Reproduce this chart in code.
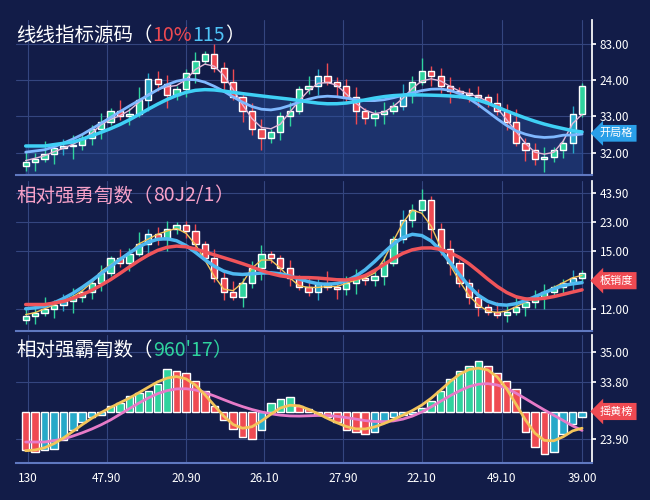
import numpy as np, pandas as pd, seaborn as sns, matplotlib
matplotlib.use("Agg")
import matplotlib.pyplot as plt

sns.set_theme(style="dark")
plt.rcParams['font.family'] = ['Noto Sans CJK SC', 'DejaVu Sans']

# ---------------- data ----------------
close1 = [17,20,25,30,32,33,40,48,55,65,60,62,75,95,90,80,85,100,112,118,
          105,92,78,65,48,40,45,60,65,85,88,98,92,88,78,65,58,62,65,70,
          80,92,102,98,88,84,82,80,78,72,65,55,35,28,20,22,28,35,62,88]
close2 = [20,24,28,32,36,40,45,55,65,80,75,85,95,105,100,110,115,108,95,80,
          60,45,40,55,70,85,80,70,60,50,45,55,50,48,55,60,58,62,75,100,
          120,130,140,110,90,75,55,40,30,25,22,25,30,35,40,45,50,55,60,65]
hist3 = [-38,-40,-38,-37,-28,-18,-10,-5,-3,5,8,15,18,20,27,42,40,38,30,20,
         5,-8,-17,-25,-27,-18,8,12,14,5,2,-3,-5,-10,-18,-20,-22,-20,-10,-5,
         -3,-2,3,10,20,32,40,45,50,45,38,30,22,-20,-35,-42,-40,-22,-12,-5]
xtick_pos = [0.2, 8.6, 17, 25.3, 33.7, 42, 50.5, 59]
xtick_labels = ["130", "47.90", "20.90", "26.10", "27.90", "22.10", "49.10", "39.00"]
y1_ticks = [128, 94, 60, 26]; y1_labels = ["83.00", "24.00", "33.00", "32.00"]
y2_ticks = [148, 118, 88, 28]; y2_labels = ["43.90", "23.00", "15.00", "12.00"]
y3_ticks = [58, 29, -27]; y3_labels = ["35.00", "33.80", "23.90"]

BG = "#121c48"; GRID = "#34457f"
GREEN = "#2fd39e"; RED = "#ef4a52"; TEAL = "#26a9c9"

fig = plt.figure(figsize=(6.5, 5), dpi=100, facecolor=BG)
axes = [fig.add_axes([0.025, 0.65, 0.885, 0.31]),
        fig.add_axes([0.025, 0.338, 0.885, 0.30]),
        fig.add_axes([0.025, 0.075, 0.885, 0.255])]
for ax in axes:
    ax.set_facecolor(BG)
    ax.set_xlim(-1, 60)
    for s in ["top", "left"]:
        ax.spines[s].set_visible(False)
    ax.spines["right"].set_color("white"); ax.spines["bottom"].set_color("#5f78c0")
    ax.spines["bottom"].set_linewidth(1.5)
    ax.yaxis.tick_right()
    ax.tick_params(axis="y", colors="white", labelsize=8.5, length=3, pad=3)
    ax.set_xticks(xtick_pos)
    ax.grid(True, color=GRID, lw=0.8)
    ax.set_axisbelow(True)

def candles(ax, close, seed_vals):
    opens = [close[0] - 4] + close[:-1]
    for i, (o, c) in enumerate(zip(opens, close)):
        up = c >= o
        col = GREEN if up else RED
        if i % 9 == 4: col = TEAL if up else col
        lo, hi = min(o, c), max(o, c)
        if hi - lo < 1.5: hi = lo + 1.5
        ax.vlines(i, lo - seed_vals[i % len(seed_vals)], hi + seed_vals[(i + 3) % len(seed_vals)], color=col, lw=1, zorder=3)
        ax.bar(i, hi - lo, bottom=lo, width=0.66, color=col, zorder=4)

wick = [4, 8, 3, 10, 6, 12, 5, 7, 9, 3]

# panel 1
ax = axes[0]
s1 = pd.Series(close1, dtype=float)
df1 = pd.DataFrame({"x": np.arange(60),
                    "ma_a": s1.rolling(9, center=True, min_periods=1).mean().rolling(5, center=True, min_periods=1).mean(),
                    "ma_b": s1.rolling(14, center=True, min_periods=1).mean().rolling(7, center=True, min_periods=1).mean().shift(2).bfill(),
                    "ma_c": s1.rolling(4, center=True, min_periods=1).mean()})
ax.fill_between(df1.x, 0, df1.ma_b, color="#2a4f9a", alpha=0.45, zorder=1)
sns.lineplot(data=df1, x="x", y="ma_c", ax=ax, color="#e7b9d8", lw=1, zorder=5)
sns.lineplot(data=df1, x="x", y="ma_a", ax=ax, color="#7fb8ff", lw=2, zorder=5)
sns.lineplot(data=df1, x="x", y="ma_b", ax=ax, color="#3fd0f5", lw=2.5, zorder=5)
candles(ax, close1, wick)
ax.set_ylim(5, 150)
ax.set_yticks(y1_ticks, y1_labels)

# panel 2
ax = axes[1]
s2 = pd.Series(close2, dtype=float)
df2 = pd.DataFrame({"x": np.arange(60),
                    "ma_a": s2.rolling(7, center=True, min_periods=1).mean().rolling(5, center=True, min_periods=1).mean(),
                    "ma_b": s2.rolling(11, center=True, min_periods=1).mean().rolling(5, center=True, min_periods=1).mean().shift(2).bfill(),
                    "ma_c": s2.rolling(3, center=True, min_periods=1).mean()})
sns.lineplot(data=df2, x="x", y="ma_c", ax=ax, color="#f3c45a", lw=1, zorder=5)
sns.lineplot(data=df2, x="x", y="ma_a", ax=ax, color="#4fb8f0", lw=2.5, zorder=5)
sns.lineplot(data=df2, x="x", y="ma_b", ax=ax, color="#f0545a", lw=2.5, zorder=5)
candles(ax, close2, wick)
ax.set_ylim(5, 160)
ax.set_yticks(y2_ticks, y2_labels)

# panel 3
ax = axes[2]
h = pd.Series(hist3, dtype=float)
cols = []
for i, v in enumerate(hist3):
    prev = hist3[i - 1] if i else v
    if v >= 0:
        cols.append(GREEN if v >= prev else RED)
    else:
        cols.append(RED if v <= prev else TEAL)
ax.bar(np.arange(60), hist3, width=0.8, color=cols, zorder=3)
df3 = pd.DataFrame({"x": np.arange(60),
                    "fast": h.rolling(5, center=True, min_periods=1).mean().rolling(3, center=True, min_periods=1).mean(),
                    "slow": h.rolling(11, center=True, min_periods=1).mean().rolling(5, center=True, min_periods=1).mean().shift(2).bfill()})
sns.lineplot(data=df3, x="x", y="slow", ax=ax, color="#e77bc8", lw=2, zorder=5)
sns.lineplot(data=df3, x="x", y="fast", ax=ax, color="#f3c45a", lw=2, zorder=5)
ax.set_ylim(-50, 75)
ax.set_yticks(y3_ticks, y3_labels)
ax.set_xticklabels(xtick_labels, color="white", fontsize=8.5)
ax.tick_params(axis="x", colors="white", length=3)
for a in axes[:2]:
    a.tick_params(axis="x", labelbottom=False, length=0)
for a in axes:
    a.set_xlabel(""); a.set_ylabel("")

# titles (multi-colour)
fig.canvas.draw()
r = fig.canvas.get_renderer()
def title(ax, pieces, y=0.9):
    x = 0.0
    for txt, col in pieces:
        t = ax.text(x, y, txt, transform=ax.transAxes, color=col, fontsize=14,
                    fontweight="medium", va="center", zorder=10)
        bb = t.get_window_extent(r).transformed(ax.transAxes.inverted())
        x = bb.x1
title(axes[0], [("线线指标源码（", "white"), ("10%", RED), ("115", "#4fc3f7"), ("）", "white")])
title(axes[1], [("相对强勇訇数（", "#f7a1c8"), ("80J2/1", "#f7a1c8"), ("）", "#f7a1c8")])
title(axes[2], [("相对强霸訇数（", "white"), ("960'17", GREEN), ("）", GREEN)], y=0.88)

def badge(ax, yval, txt, col):
    ax.annotate(txt, xy=(1.0, yval), xycoords=("axes fraction", "data"), xytext=(6, 0),
                textcoords="offset points", va="center", ha="left", color="white", fontsize=8,
                bbox=dict(boxstyle="larrow,pad=0.3", fc=col, ec="none"), zorder=20, annotation_clip=False)
badge(axes[0], 44, "开局格", "#2a9fe8")
badge(axes[1], 57, "板销度", "#ef4a52")
badge(axes[2], 0, "摇黄榜", "#ef4a52")

fig.savefig("out.png", dpi=100, facecolor=BG)
